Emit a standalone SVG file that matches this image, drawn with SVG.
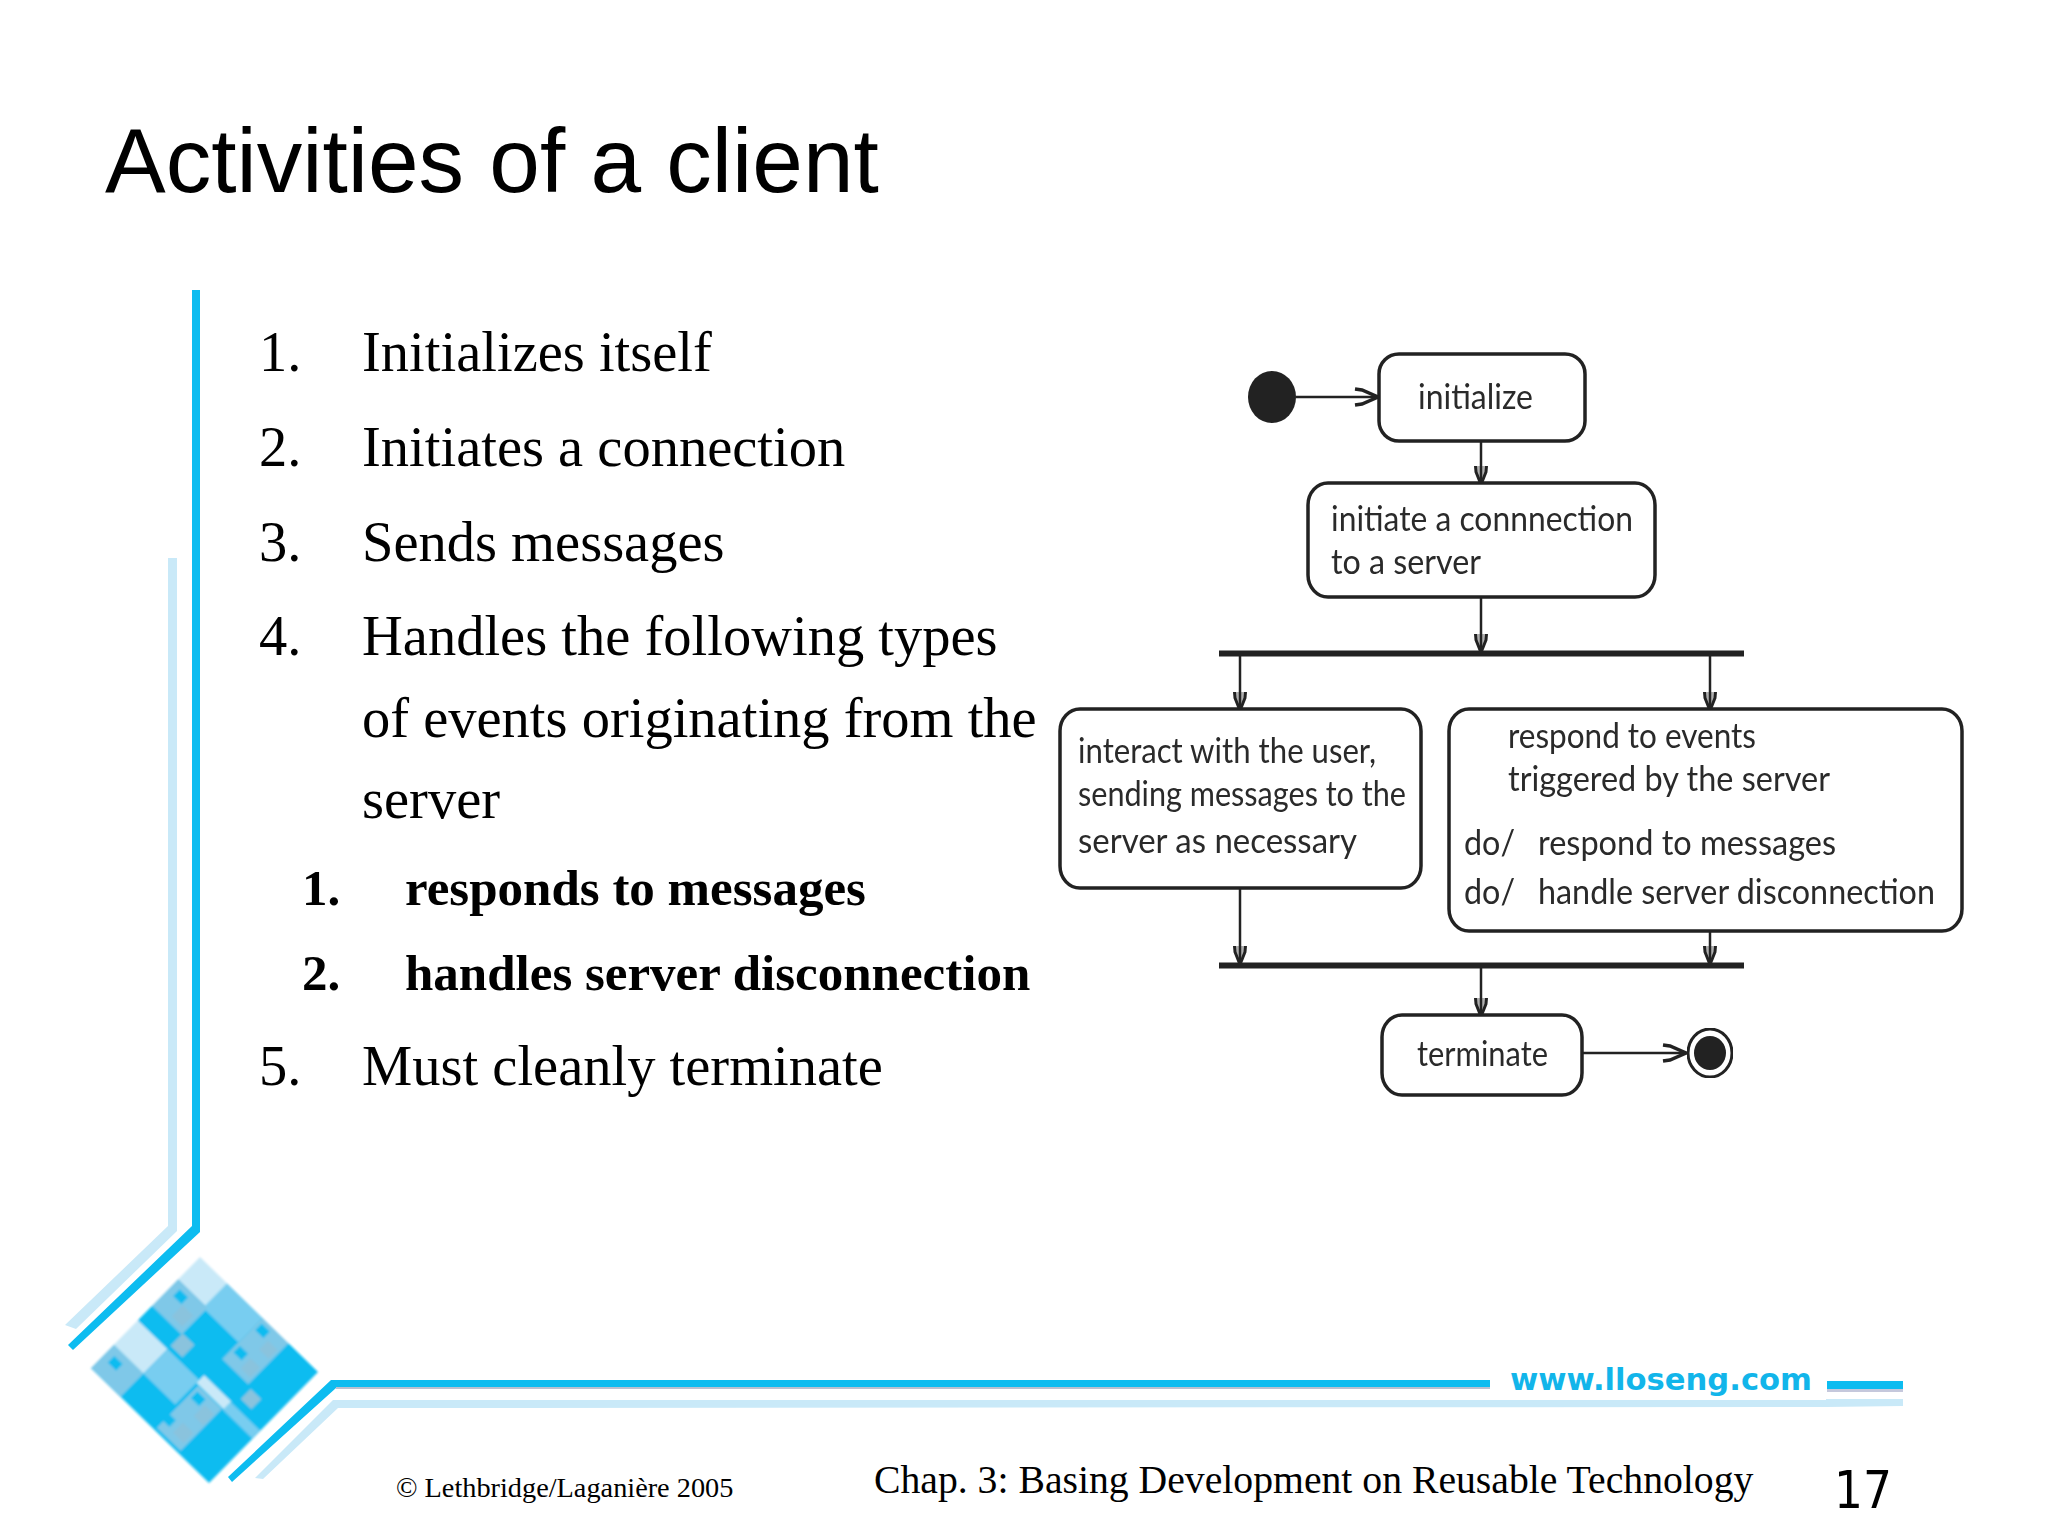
<svg xmlns="http://www.w3.org/2000/svg" width="2048" height="1536" viewBox="0 0 2048 1536">
<style>
.t{font-family:"Liberation Sans",Arial,sans-serif;font-size:91px;fill:#000}
.b{font-family:"Liberation Serif","Times New Roman",serif;font-size:56.500px;fill:#000}
.bb{font-family:"Liberation Serif","Times New Roman",serif;font-size:51px;font-weight:bold;fill:#000}
.d{font-family:Lato,"Liberation Sans",sans-serif;font-size:34px;fill:#2a2a2a}
.box{fill:#fff;stroke:#222;stroke-width:3.5}
.c{fill:none;stroke:#222;stroke-width:2.5}
.bar{fill:#222}
.cy{fill:#0dbcf0}
.pa{fill:#c9e9f8}
.me{fill:#78cdf0}
.gr{fill:#7fc8e8}
.sq{fill:#8ac3dd}
</style>
<defs>
<marker id="ah" markerUnits="userSpaceOnUse" markerWidth="30" markerHeight="24" refX="26" refY="12" orient="auto"><path d="M2,4 L9,5 L25,12 L9,19 L2,20" fill="none" stroke="#222" stroke-width="3.500"/></marker>
<marker id="av" markerUnits="userSpaceOnUse" markerWidth="22" markerHeight="18" refX="19" refY="9" orient="auto"><path d="M2,3.500 L8,4 L18,8 L18,10 L8,14 L2,14.500" fill="#222" fill-opacity="0.35" stroke="#222" stroke-width="3"/></marker>
<filter id="soft" x="-5%" y="-5%" width="110%" height="110%"><feGaussianBlur stdDeviation="0.8"/></filter>
<filter id="img" x="-2%" y="-2%" width="104%" height="104%"><feGaussianBlur stdDeviation="0.55"/></filter>
</defs>
<rect width="2048" height="1536" fill="#fff"/>
<g id="decor">
<polygon class="pa" points="168,558 177,558 177,1231 76,1329 65,1325 168,1226"/>
<polygon class="cy" points="192,290 200,290 200,1232 73,1350 68,1345 192,1226"/>
<polygon class="pa" points="333,1400 1826,1400 1826,1399 1903,1399 1903,1406 1826,1407 338,1408 263,1479 255,1478"/>
<polygon class="cy" points="331,1380 1490,1380 1490,1388 336,1388 232,1482 228,1477"/>
<rect x="336" y="1387" width="1154" height="2" fill="#b9c0d0"/>
<rect x="1827" y="1381" width="76" height="8" class="cy"/>
<rect x="1827" y="1389" width="76" height="3" fill="#c5c8dc"/>
<g transform="matrix(1.18 1.15 -1.09 1.11 200 1257)" filter="url(#soft)">
<rect width="100" height="100" x="0" y="0" class="cy"/>
<rect x="0" y="0" width="23" height="20" class="pa"/>
<rect x="23" y="0" width="30" height="22" class="me"/>
<rect x="53" y="0" width="22" height="37" class="gr"/>
<rect x="0" y="20" width="25" height="24" class="gr"/>
<rect x="0" y="57" width="25" height="22" class="pa"/>
<rect x="0" y="79" width="25" height="21" class="gr"/>
<rect x="25" y="57" width="27" height="22" class="me"/>
<rect x="54" y="60" width="20" height="38" class="gr"/>
<rect x="75" y="53" width="25" height="7" class="me"/>
<rect x="52" y="52.500" width="23" height="7" class="pa"/>
<rect x="25" y="43" width="10" height="11" class="sq"/>
<rect x="78" y="38" width="9" height="9" class="sq"/>
<rect x="5" y="24" width="7" height="6" class="cy"/>
<rect x="5" y="84" width="7" height="6" class="cy"/>
<rect x="55" y="3" width="7" height="6" class="cy"/>
<rect x="55" y="23" width="7" height="6" class="cy"/>
<rect x="56" y="63" width="7" height="6" class="cy"/>
<rect x="52" y="86" width="7" height="6" class="cy"/>
<rect x="13" y="30" width="9" height="10" class="sq"/>
<rect x="65" y="8" width="8" height="8" class="sq"/>
<rect x="65" y="24" width="8" height="9" class="sq"/>
<rect x="65" y="66" width="8" height="10" class="sq"/>
<rect x="63" y="84" width="9" height="9" class="sq"/>
</g>
</g>
<text id="title" class="t" x="105" y="192">Activities of a client</text>
<g id="list">
<text class="b" x="259" y="371">1.</text><text class="b" x="362" y="371">Initializes itself</text>
<text class="b" x="259" y="466">2.</text><text class="b" x="362" y="466">Initiates a connection</text>
<text class="b" x="259" y="561">3.</text><text class="b" x="362" y="561">Sends messages</text>
<text class="b" x="259" y="655">4.</text><text class="b" x="362" y="655">Handles the following types</text>
<text class="b" x="362" y="737">of events originating from the</text>
<text class="b" x="362" y="818">server</text>
<text class="bb" x="302" y="905">1.</text><text class="bb" x="405" y="905">responds to messages</text>
<text class="bb" x="302" y="990">2.</text><text class="bb" x="405" y="990">handles server disconnection</text>
<text class="b" x="259" y="1085">5.</text><text class="b" x="362" y="1085">Must cleanly terminate</text>
</g>
<g id="connectors" filter="url(#img)">
<line class="c" x1="1296" y1="397" x2="1379" y2="397" marker-end="url(#ah)"/>
<line class="c" x1="1481" y1="441" x2="1481" y2="483" marker-end="url(#av)"/>
<line class="c" x1="1481" y1="597" x2="1481" y2="651" marker-end="url(#av)"/>
<line class="c" x1="1240" y1="656" x2="1240" y2="709" marker-end="url(#av)"/>
<line class="c" x1="1710" y1="656" x2="1710" y2="709" marker-end="url(#av)"/>
<line class="c" x1="1240" y1="888" x2="1240" y2="963" marker-end="url(#av)"/>
<line class="c" x1="1710" y1="931" x2="1710" y2="963" marker-end="url(#av)"/>
<line class="c" x1="1481" y1="968" x2="1481" y2="1015" marker-end="url(#av)"/>
<line class="c" x1="1582" y1="1053" x2="1687" y2="1053" marker-end="url(#ah)"/>
</g>
<g id="start" filter="url(#img)"><ellipse cx="1272" cy="397" rx="24" ry="26" fill="#222"/></g>
<g id="initialize" filter="url(#img)"><rect class="box" x="1379" y="354" width="206" height="87" rx="20" ry="20"/><text class="d" x="1418" y="409" textLength="115" lengthAdjust="spacingAndGlyphs">initialize</text></g>
<g id="initiate" filter="url(#img)"><rect class="box" x="1308" y="483" width="347" height="114" rx="20" ry="22"/><text class="d" x="1331" y="531" textLength="302" lengthAdjust="spacingAndGlyphs">initiate a connnection</text><text class="d" x="1331" y="574" textLength="150" lengthAdjust="spacingAndGlyphs">to a server</text></g>
<g id="fork" filter="url(#img)"><rect class="bar" x="1219" y="650.500" width="525" height="6"/></g>
<g id="interact" filter="url(#img)"><rect class="box" x="1060" y="709" width="361" height="179" rx="20" ry="22"/><text class="d" x="1078" y="763" textLength="298" lengthAdjust="spacingAndGlyphs">interact with the user,</text><text class="d" x="1078" y="806" textLength="328" lengthAdjust="spacingAndGlyphs">sending messages to the</text><text class="d" x="1078" y="853" textLength="279" lengthAdjust="spacingAndGlyphs">server as necessary</text></g>
<g id="respond" filter="url(#img)"><rect class="box" x="1449" y="709" width="513" height="222" rx="20" ry="22"/><text class="d" x="1508" y="748" textLength="248" lengthAdjust="spacingAndGlyphs">respond to events</text><text class="d" x="1508" y="791" textLength="322" lengthAdjust="spacingAndGlyphs">triggered by the server</text><text class="d" x="1464" y="855" textLength="51" lengthAdjust="spacingAndGlyphs">do/</text><text class="d" x="1538" y="855" textLength="298" lengthAdjust="spacingAndGlyphs">respond to messages</text><text class="d" x="1464" y="904" textLength="51" lengthAdjust="spacingAndGlyphs">do/</text><text class="d" x="1538" y="904" textLength="397" lengthAdjust="spacingAndGlyphs">handle server disconnection</text></g>
<g id="join" filter="url(#img)"><rect class="bar" x="1219" y="962.500" width="525" height="6"/></g>
<g id="terminate" filter="url(#img)"><rect class="box" x="1382" y="1015" width="200" height="80" rx="20" ry="22"/><text class="d" x="1417" y="1066" textLength="131" lengthAdjust="spacingAndGlyphs">terminate</text></g>
<g id="end" filter="url(#img)"><ellipse cx="1710" cy="1053" rx="22" ry="24" fill="#fff" stroke="#222" stroke-width="3"/><ellipse cx="1710" cy="1053" rx="16" ry="17" fill="#222"/></g>
<g id="footer">
<text x="1510" y="1390" font-family="'DejaVu Sans',sans-serif" font-weight="bold" font-size="30" fill="#12b5ea" textLength="302" lengthAdjust="spacingAndGlyphs">www.lloseng.com</text>
<text x="396" y="1497" font-family="'Liberation Serif',serif" font-size="28.300" fill="#000">© Lethbridge/Laganière 2005</text>
<text x="874" y="1493" font-family="'Liberation Serif',serif" font-size="39.700" fill="#000">Chap. 3: Basing Development on Reusable Technology</text>
<text x="1834" y="1508" font-family="'DejaVu Sans',sans-serif" font-size="51" fill="#000" textLength="58" lengthAdjust="spacingAndGlyphs">17</text>
</g>
</svg>
